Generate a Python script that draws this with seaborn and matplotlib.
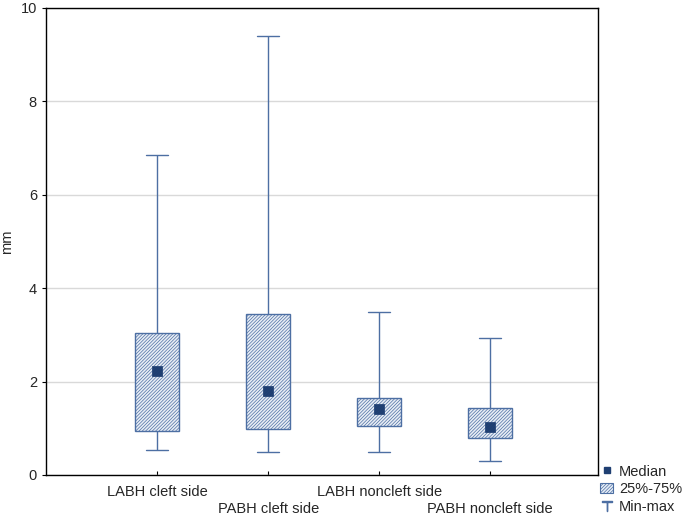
import numpy as np
import pandas as pd
import matplotlib
matplotlib.use("Agg")
import matplotlib.pyplot as plt
import seaborn as sns
from matplotlib.patches import Patch
from matplotlib.lines import Line2D

categories = ["LABH cleft side", "PABH cleft side", "LABH noncleft side", "PABH noncleft side"]
mins = [0.54, 0.49, 0.49, 0.30]
q1s = [0.94, 0.99, 1.05, 0.79]
medians = [2.23, 1.80, 1.41, 1.03]
q3s = [3.04, 3.45, 1.65, 1.43]
maxs = [6.85, 9.40, 3.49, 2.93]

sns.set_style("white")
plt.rcParams['font.family'] = ['Liberation Sans', 'DejaVu Sans']
plt.rcParams['hatch.linewidth'] = 0.5
plt.rcParams['hatch.color'] = '#a3b8da'

rows = []
for c, a, b, m, d, e in zip(categories, mins, q1s, medians, q3s, maxs):
    for v in (a, b, m, d, e):
        rows.append({"cat": c, "val": v})
df = pd.DataFrame(rows)
med_df = pd.DataFrame({"cat": categories, "val": medians})

fig = plt.figure(figsize=(6.85, 5.16), dpi=100)
ax = fig.add_axes([46/685, 41/516, 552/685, 467/516])

edge = '#4d6fa3'
fill = '#e6edf7'
sns.boxplot(data=df, x="cat", y="val", order=categories, whis=(0, 100), width=0.4,
            color=fill, linecolor=edge, linewidth=1.0, fliersize=0,
            medianprops=dict(visible=False), ax=ax, zorder=3)
for p in ax.patches:
    p.set_hatch('//////////')
    p.set_edgecolor(edge)
sns.scatterplot(data=med_df, x="cat", y="val", marker='s', s=45, color='#1f3f72',
                edgecolor='#1f3f72', ax=ax, zorder=5)

ax.set_xlim(-1, 3.97)
ax.set_ylim(0, 10)
ax.set_yticks([0, 2, 4, 6, 8, 10])
ax.yaxis.grid(True, color='#d9d9d9', linewidth=1)
ax.set_axisbelow(True)
for s in ax.spines.values():
    s.set_color('black')
    s.set_linewidth(1.0)
ax.set_xlabel("")
ax.set_ylabel("mm", fontsize=10.5)
ax.yaxis.set_label_coords(-0.058, 0.5)
ax.tick_params(axis='y', left=True, length=3, labelsize=10.5, color='black')
ax.tick_params(axis='x', bottom=True, direction='in', length=3, labelsize=10.5, color='black')
labels = ax.get_xticklabels()
for i, lab in enumerate(labels):
    lab.set_y(-0.004 if i % 2 == 0 else -0.041)
    lab.set_va('top')
ax.tick_params(axis='x', pad=6)

handles = [
    Line2D([], [], marker='s', linestyle='none', color='#1f3f72', markersize=5),
    Patch(facecolor=fill, edgecolor=edge, hatch='//////////', linewidth=0.8),
    Line2D([], [], marker='$\\top$', linestyle='none', color=edge, markersize=7),
]
leg = fig.legend(handles, ["Median", "25%-75%", "Min-max"], loc='lower left',
                 bbox_to_anchor=(598/685, 0.0), frameon=False, fontsize=10.5,
                 handlelength=0.9, handletextpad=0.4, labelspacing=0.25,
                 borderaxespad=0.0, borderpad=0.15)

fig.savefig("out.png", dpi=100)
